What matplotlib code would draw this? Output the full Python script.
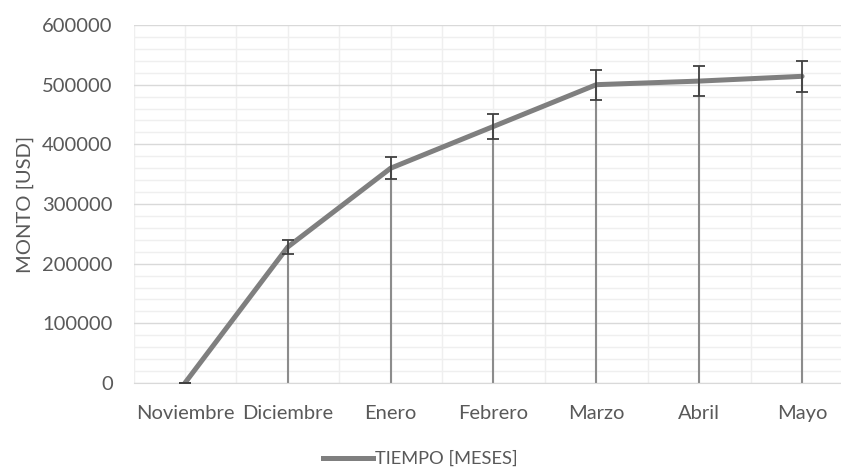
import matplotlib
matplotlib.use("Agg")
import matplotlib.pyplot as plt
import numpy as np
from matplotlib.lines import Line2D
from matplotlib.ticker import MultipleLocator, FixedLocator

plt.rcParams['font.family'] = ['Lato', 'DejaVu Sans']

months = ["Noviembre", "Diciembre", "Enero", "Febrero", "Marzo", "Abril", "Mayo"]
monto = [0, 228000, 360000, 430000, 500000, 506000, 514000]
error = [0, 11400, 18000, 21500, 25000, 25300, 25700]
series_label = "TIEMPO [MESES]"
y_label = "MONTO [USD]"

txt = "#595959"
line_c = "#7f7f7f"
fs = 14.5

fig = plt.figure(figsize=(8.41, 4.72), dpi=100)
ax = fig.add_axes([133.5/841, (472-383)/472, 720/841, 358/472])

x = np.arange(len(months))
y = np.array(monto, dtype=float)

ax.set_xlim(-0.5, len(months)-0.5)
ax.set_ylim(0, 600000)

ax.yaxis.set_major_locator(MultipleLocator(100000))
ax.yaxis.set_minor_locator(MultipleLocator(20000))
ax.xaxis.set_major_locator(FixedLocator(x))
ax.xaxis.set_minor_locator(MultipleLocator(0.5))
ax.grid(which='minor', axis='both', color='#efefef', lw=1.0, zorder=0)
ax.grid(which='major', axis='x', color='#efefef', lw=1.0, zorder=0)
ax.grid(which='major', axis='y', color='#d9d9d9', lw=1.0, zorder=0)
ax.set_axisbelow(True)

for s in ['top', 'right', 'left']:
    ax.spines[s].set_visible(False)
ax.spines['bottom'].set_color('#d9d9d9')
ax.tick_params(axis='both', which='both', length=0, colors=txt, labelsize=fs)
ax.tick_params(axis='x', pad=16)
ax.tick_params(axis='y', pad=15)
ax.set_xticks(x)
ax.set_xticklabels(months)
ax.set_ylabel(y_label, color=txt, fontsize=fs, labelpad=6)

# drop lines
ax.vlines(x, 0, y, color='#8c8c8c', lw=1.5, zorder=2)

# main line
ax.plot(x, y, color=line_c, lw=3.6, solid_capstyle='round',
        solid_joinstyle='round', zorder=4)

# error bars
ax.errorbar(x, y, yerr=error, fmt='none', ecolor='#404040', elinewidth=1.3,
            capsize=4.3, capthick=1.3, zorder=5)

handle = Line2D([0], [0], color=line_c, lw=3.6)
fig.legend([handle], [series_label], loc='center', bbox_to_anchor=(0.5, (472-459)/472),
           frameon=False, fontsize=13.2, labelcolor=txt, handlelength=2.7,
           handletextpad=0.15)

fig.savefig("out.png", dpi=100)
